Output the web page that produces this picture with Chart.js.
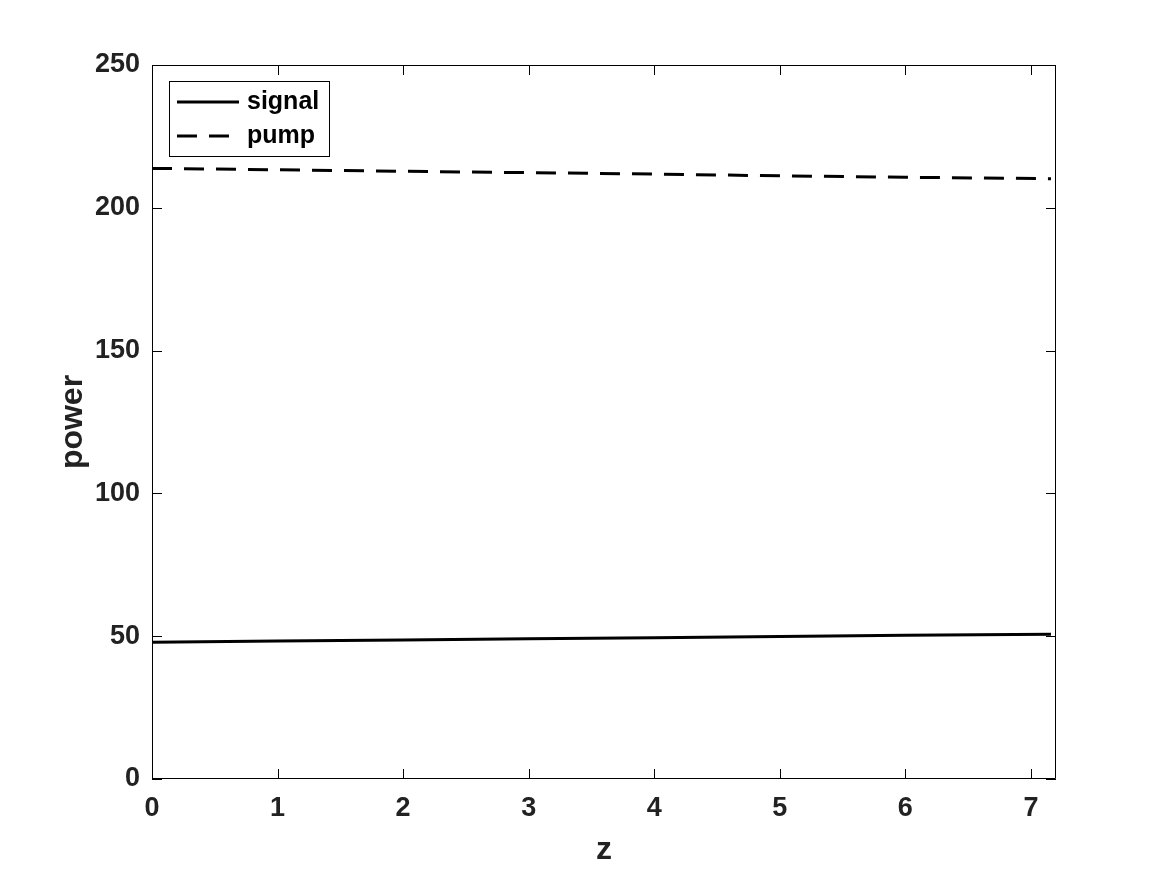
<!DOCTYPE html>
<html>
<head>
<meta charset="utf-8">
<script src="https://cdn.jsdelivr.net/npm/chart.js@4"></script>
<style>
  html, body { margin: 0; padding: 0; background: #fff; }
  #wrap { width: 1167px; height: 875px; position: relative; }
</style>
</head>
<body>
<div id="wrap"><canvas id="grafico"></canvas></div>
<script>
// valores
const zVals = [0, 1, 2, 3, 4, 5, 6, 7.16];
const signalVals = [47.9, 48.3, 48.7, 49.1, 49.5, 49.9, 50.3, 50.7];
const pumpVals = [213.8, 213.3, 212.8, 212.3, 211.8, 211.2, 210.7, 210.2];
const xTicks = [0, 1, 2, 3, 4, 5, 6, 7];
const yTicks = [0, 50, 100, 150, 200, 250];
const seriesNames = ['signal', 'pump'];

const FONT = 'Liberation Sans, Arial, Helvetica, sans-serif';

// caja completa con marcas hacia dentro (estilo MATLAB) + leyenda
const boxPlugin = {
    id: 'boxPlugin',
    afterDatasetsDraw(chart) {
        const { ctx, chartArea: a, scales } = chart;
        const len = 10;
        ctx.save();
        ctx.strokeStyle = '#000';
        ctx.lineWidth = 1;
        ctx.beginPath();
        ctx.rect(a.left + 0.5, a.top + 0.5, a.right - a.left - 1, a.bottom - a.top - 1);
        xTicks.forEach(v => {
            const px = Math.round(scales.x.getPixelForValue(v)) + 0.5;
            ctx.moveTo(px, a.bottom); ctx.lineTo(px, a.bottom - len);
            ctx.moveTo(px, a.top); ctx.lineTo(px, a.top + len);
        });
        yTicks.forEach(v => {
            const py = Math.round(scales.y.getPixelForValue(v)) + 0.5;
            ctx.moveTo(a.left, py); ctx.lineTo(a.left + len, py);
            ctx.moveTo(a.right, py); ctx.lineTo(a.right - len, py);
        });
        ctx.stroke();

        // leyenda
        const lx = a.left + 17, ly = a.top + 16, lw = 160, lh = 75;
        ctx.fillStyle = '#fff';
        ctx.fillRect(lx, ly, lw, lh);
        ctx.strokeRect(lx + 0.5, ly + 0.5, lw, lh);
        ctx.font = 'bold 25px ' + FONT;
        ctx.textBaseline = 'middle';
        ctx.fillStyle = '#000';
        chart.data.datasets.forEach((ds, i) => {
            const yy = ly + 21 + i * 34;
            ctx.beginPath();
            ctx.lineWidth = 3;
            ctx.setLineDash(ds.borderDash || []);
            ctx.moveTo(lx + 8, yy);
            ctx.lineTo(lx + 70, yy);
            ctx.stroke();
            ctx.setLineDash([]);
            ctx.fillText(ds.label, lx + 78, yy);
        });
        ctx.restore();
    }
};

const ctx = document.getElementById('grafico');
new Chart(ctx, {
    type: 'line',
    data: {
        datasets: [
            {
                label: seriesNames[0],
                data: zVals.map((z, i) => ({ x: z, y: signalVals[i] })),
                borderColor: '#000', borderWidth: 3, pointRadius: 0, fill: false, tension: 0
            },
            {
                label: seriesNames[1],
                data: zVals.map((z, i) => ({ x: z, y: pumpVals[i] })),
                borderColor: '#000', borderWidth: 3, borderDash: [20, 12], pointRadius: 0, fill: false, tension: 0
            }
        ]
    },
    options: {
        responsive: true, maintainAspectRatio: false, animation: false,
        layout: { padding: { left: 0, top: 65, right: 111, bottom: 0 } },
        plugins: { legend: { display: false }, tooltip: { enabled: false } },
        scales: {
            x: {
                type: 'linear', min: 0, max: 7.2,
                afterFit: s => { s.height = 96; },
                afterBuildTicks: s => { s.ticks = xTicks.map(v => ({ value: v })); },
                grid: { display: false, drawTicks: false },
                border: { display: false },
                ticks: { color: '#222', padding: 13, maxRotation: 0, font: { family: FONT, size: 27, weight: 'bold' } },
                title: { display: true, text: 'z', color: '#222', padding: { top: 0, bottom: 6 }, font: { family: FONT, size: 32, weight: 'bold' } }
            },
            y: {
                min: 0, max: 250,
                afterFit: s => { s.width = 152; },
                afterBuildTicks: s => { s.ticks = yTicks.map(v => ({ value: v })); },
                grid: { display: false, drawTicks: false },
                border: { display: false },
                ticks: { color: '#222', padding: 12, font: { family: FONT, size: 27, weight: 'bold' } },
                title: { display: true, text: 'power', color: '#222', padding: { top: 54, bottom: 0 }, font: { family: FONT, size: 32, weight: 'bold' } }
            }
        }
    },
    plugins: [boxPlugin]
});
</script>
</body>
</html>
